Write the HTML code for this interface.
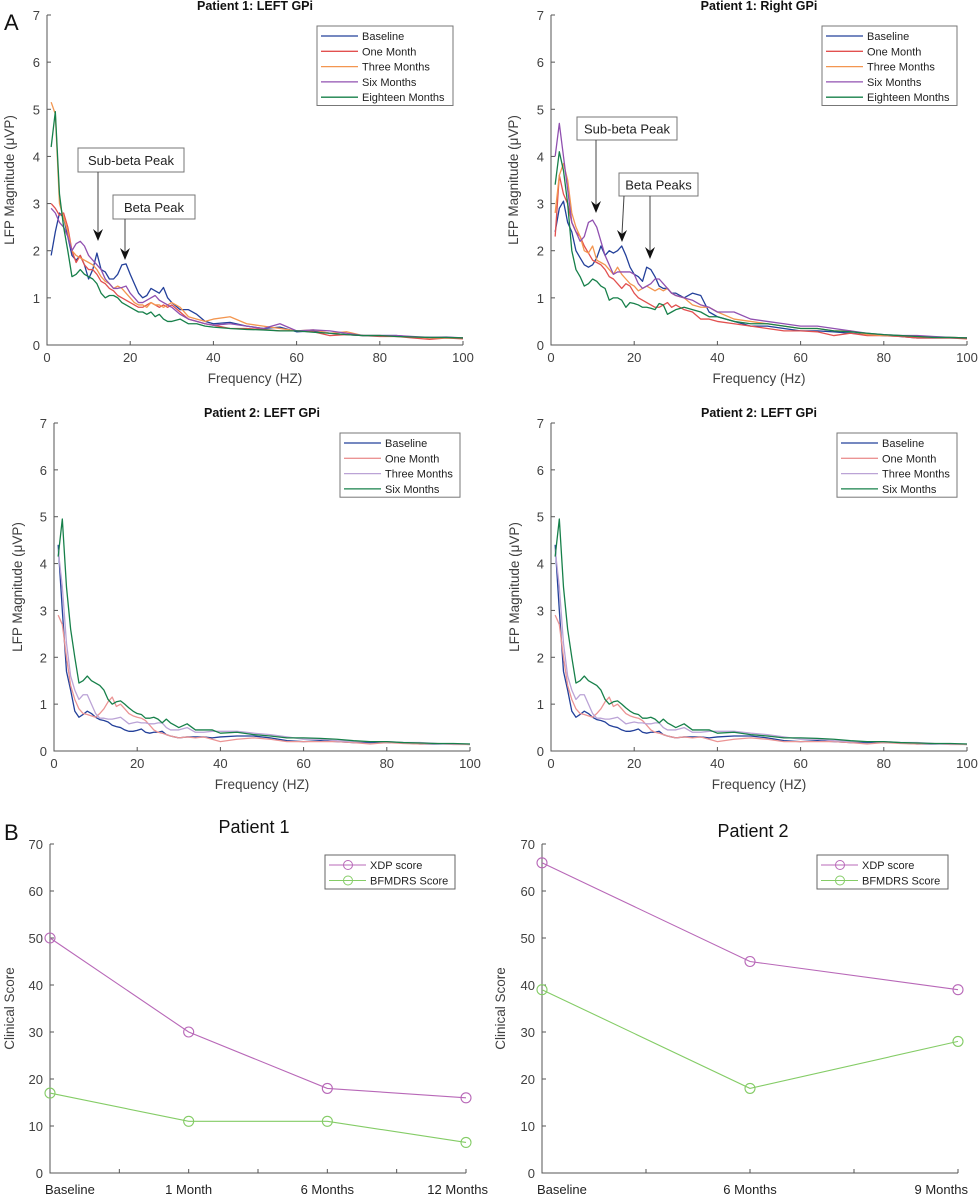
<!DOCTYPE html>
<html><head><meta charset="utf-8"><style>
body{margin:0;background:#fff}
svg{display:block;font-family:"Liberation Sans",Arial,sans-serif}
</style></head><body>
<svg id="fig" width="979" height="1200" viewBox="0 0 979 1200">
<text x="4" y="30" font-size="22" fill="#111">A</text>
<text x="4" y="840" font-size="22" fill="#111">B</text>
</svg>
<script>
// ---------- Spectral data ----------
const freq=[1,2,3,4,5,6,7,8,9,10,11,12,13,14,15,16,17,18,19,20,21,22,23,24,25,26,27,28,29,30,32,34,36,38,40,44,48,52,56,60,64,68,72,76,80,84,88,92,96,100];
const xTicks=[0,20,40,60,80,100];
const yTicks=[0,1,2,3,4,5,6,7];
// Patient 1 LEFT
const p1Baseline=[1.9,2.4,2.8,2.7,2.3,1.9,1.8,1.9,1.7,1.4,1.6,1.95,1.6,1.55,1.4,1.4,1.5,1.7,1.72,1.5,1.3,1.1,1.0,1.05,1.2,1.15,1.1,1.22,1.0,0.9,0.75,0.75,0.65,0.5,0.45,0.48,0.4,0.35,0.38,0.28,0.3,0.25,0.22,0.2,0.2,0.2,0.17,0.16,0.15,0.15];
const p1One=[3.0,2.9,2.75,2.8,2.5,2.0,1.75,1.9,1.7,1.6,1.6,1.5,1.35,1.3,1.2,1.15,1.05,1.0,0.95,0.9,0.85,0.8,0.8,0.85,0.9,0.85,0.8,0.85,0.8,0.85,0.7,0.55,0.5,0.45,0.42,0.35,0.35,0.33,0.3,0.3,0.28,0.2,0.22,0.2,0.18,0.18,0.15,0.12,0.15,0.13];
const p1Three=[5.15,4.9,3.0,2.7,2.4,2.0,1.9,1.85,1.8,1.75,1.7,1.6,1.45,1.35,1.3,1.2,1.25,1.2,1.1,1.0,0.9,0.85,0.85,0.8,0.9,0.85,0.85,0.8,0.85,0.9,0.8,0.6,0.55,0.5,0.55,0.6,0.45,0.4,0.35,0.3,0.32,0.25,0.28,0.2,0.2,0.18,0.17,0.15,0.15,0.15];
const p1Six=[2.9,2.8,2.6,2.5,2.3,2.0,2.15,2.2,2.1,1.9,1.8,1.7,1.6,1.4,1.3,1.2,1.2,1.22,1.25,1.1,1.0,0.9,0.9,0.95,1.0,1.05,0.95,0.9,0.85,0.8,0.65,0.55,0.5,0.45,0.42,0.45,0.4,0.35,0.45,0.3,0.32,0.3,0.25,0.2,0.2,0.2,0.18,0.16,0.17,0.15];
const p1Eighteen=[4.2,4.95,3.2,2.5,2.0,1.45,1.5,1.6,1.5,1.45,1.4,1.3,1.1,1.0,1.05,1.05,1.0,0.9,0.85,0.8,0.75,0.7,0.7,0.65,0.7,0.6,0.65,0.55,0.5,0.5,0.55,0.45,0.45,0.4,0.38,0.35,0.33,0.32,0.3,0.3,0.27,0.25,0.22,0.2,0.2,0.18,0.17,0.16,0.16,0.15];
// Patient 1 RIGHT
const p2Baseline=[2.4,2.9,3.05,2.6,2.4,2.0,1.85,1.7,1.65,1.7,1.85,2.1,1.9,2.0,1.95,2.0,2.1,1.9,1.65,1.5,1.45,1.35,1.65,1.6,1.45,1.25,1.2,1.2,1.1,1.1,1.0,1.1,1.05,0.7,0.6,0.5,0.4,0.4,0.35,0.3,0.3,0.28,0.25,0.22,0.2,0.18,0.15,0.15,0.15,0.15];
const p2One=[2.3,3.6,3.2,3.0,2.6,2.4,2.3,2.1,1.95,1.8,1.75,1.7,1.6,1.45,1.4,1.3,1.2,1.3,1.25,1.1,1.0,0.95,0.9,0.85,0.8,0.8,0.85,0.9,0.8,0.85,0.75,0.7,0.55,0.55,0.5,0.45,0.4,0.35,0.3,0.3,0.28,0.2,0.25,0.2,0.2,0.18,0.15,0.15,0.15,0.13];
const p2Three=[2.8,3.6,3.85,3.5,2.8,2.5,2.3,2.0,1.95,2.1,1.8,1.75,1.7,1.6,1.5,1.65,1.5,1.4,1.3,1.25,1.15,1.2,1.25,1.2,1.15,1.2,1.15,1.2,1.1,1.05,1.0,0.85,0.8,0.8,0.7,0.55,0.5,0.45,0.4,0.35,0.35,0.3,0.3,0.22,0.2,0.2,0.18,0.16,0.16,0.15];
const p2Six=[4.0,4.7,4.0,3.3,2.6,2.4,2.2,2.3,2.6,2.65,2.5,2.2,1.9,1.7,1.5,1.55,1.55,1.55,1.55,1.5,1.3,1.2,1.25,1.3,1.4,1.4,1.3,1.2,1.1,1.05,1.0,0.95,0.85,0.8,0.7,0.7,0.55,0.5,0.45,0.4,0.4,0.35,0.3,0.25,0.22,0.2,0.2,0.18,0.16,0.15];
const p2Eighteen=[3.4,4.1,3.7,3.0,2.0,1.6,1.45,1.25,1.3,1.4,1.35,1.25,1.2,0.95,1.0,1.0,0.95,0.8,0.9,0.88,0.85,0.8,0.8,0.78,0.75,0.88,0.85,0.65,0.7,0.75,0.8,0.75,0.7,0.6,0.6,0.5,0.45,0.45,0.4,0.35,0.35,0.3,0.28,0.25,0.22,0.2,0.18,0.16,0.16,0.15];
// Patient 2 LEFT
const p3Baseline=[4.4,3.0,1.7,1.3,0.85,0.72,0.78,0.85,0.8,0.72,0.67,0.65,0.62,0.55,0.52,0.5,0.45,0.42,0.42,0.44,0.47,0.4,0.38,0.4,0.4,0.42,0.35,0.32,0.3,0.28,0.3,0.3,0.3,0.28,0.3,0.32,0.32,0.28,0.22,0.2,0.22,0.2,0.18,0.18,0.18,0.17,0.15,0.15,0.15,0.14];
const p3One=[2.9,2.7,2.0,1.4,1.1,0.9,0.8,0.78,0.75,0.72,0.8,0.9,1.05,1.15,0.95,1.0,0.9,0.8,0.75,0.72,0.7,0.65,0.55,0.45,0.4,0.38,0.35,0.32,0.3,0.28,0.3,0.28,0.3,0.25,0.2,0.25,0.28,0.25,0.2,0.2,0.2,0.2,0.18,0.15,0.18,0.16,0.15,0.16,0.14,0.14];
const p3Three=[4.3,3.5,2.3,1.6,1.3,1.1,1.2,1.2,1.0,0.8,0.7,0.7,0.68,0.68,0.7,0.72,0.65,0.58,0.6,0.62,0.6,0.6,0.58,0.58,0.6,0.6,0.5,0.45,0.45,0.45,0.5,0.4,0.4,0.42,0.42,0.42,0.38,0.35,0.3,0.25,0.25,0.22,0.2,0.2,0.2,0.18,0.18,0.16,0.15,0.15];
const p3Six=[4.15,4.95,3.5,2.6,2.0,1.45,1.5,1.6,1.5,1.45,1.4,1.3,1.1,1.0,1.05,1.07,1.0,0.92,0.85,0.8,0.78,0.7,0.7,0.72,0.68,0.6,0.68,0.6,0.55,0.5,0.58,0.45,0.45,0.45,0.38,0.4,0.35,0.32,0.28,0.28,0.27,0.25,0.22,0.2,0.2,0.18,0.17,0.16,0.16,0.15];
// ---------- Clinical data ----------
const b1Categories=["Baseline","1 Month","6 Months","12 Months"];
const b1Xdp=[50,30,18,16];
const b1Bfm=[17,11,11,6.5];
const b2Categories=["Baseline","6 Months","9 Months"];
const b2Xdp=[66,45,39];
const b2Bfm=[39,18,28];
const scoreTicks=[0,10,20,30,40,50,60,70];

const NS="http://www.w3.org/2000/svg";
const svg=document.getElementById('fig');
function mk(tag,attrs,parent,text){const e=document.createElementNS(NS,tag);for(const k in attrs)e.setAttribute(k,attrs[k]);if(text!==undefined)e.textContent=text;(parent||svg).appendChild(e);return e;}
const C={blue:"#23409a",red:"#e2504f",orange:"#f39650",purple:"#9050b0",green:"#17804a",pink:"#eb9494",lav:"#bba3d6"};
const TXT="#404040", AX="#555";

function spectrum(cfg){
  const g=mk('g',{});
  
  
  const X=v=>cfg.x0+(v/100)*(cfg.x1-cfg.x0);
  const Y=v=>cfg.yb-(v/7)*(cfg.yb-cfg.yt);
  const ax=mk('path',{d:`M${cfg.x0},${cfg.yt}V${cfg.yb}H${cfg.x1}`,fill:'none',stroke:AX,'stroke-width':1},g);
  
  
  xTicks.forEach(t=>{
    mk('line',{x1:X(t),x2:X(t),y1:cfg.yb,y2:cfg.yb-4,stroke:AX},g);
    const l=mk('text',{x:X(t),y:cfg.yb+17,'font-size':13,fill:TXT,'text-anchor':'middle'},g,String(t));
    
    
  });
  yTicks.forEach(t=>{
    mk('line',{x1:cfg.x0,x2:cfg.x0+4,y1:Y(t),y2:Y(t),stroke:AX},g);
    const l=mk('text',{x:cfg.x0-7,y:Y(t)+5,'font-size':13,fill:TXT,'text-anchor':'end'},g,String(t));
    
    
  });
  const tt=mk('text',{x:(cfg.x0+cfg.x1)/2,y:cfg.ty,'font-size':12.5,'font-weight':'bold',fill:'#111','text-anchor':'middle'},g,cfg.title);
  
  
  const xt=mk('text',{x:(cfg.x0+cfg.x1)/2,y:cfg.yb+38,'font-size':13.5,fill:TXT,'text-anchor':'middle'},g,cfg.xTitle);
  
  
  const yc=(cfg.yt+cfg.yb)/2;
  const yt=mk('text',{x:cfg.ytx,y:yc,'font-size':13.5,fill:TXT,'text-anchor':'middle',transform:`rotate(-90 ${cfg.ytx} ${yc})`},g,"LFP Magnitude (μVP)");
  
  
  cfg.series.forEach(s=>{
    const p=mk('polyline',{points:freq.map((f,i)=>X(f)+','+Y(s.v[i])).join(' '),fill:'none',stroke:s.c,'stroke-width':1.3,'stroke-linejoin':'round'},g);
    
    
  });
  const L=cfg.leg;
  const lg=mk('g',{},g);
  
  
  mk('rect',{x:L[0],y:L[1],width:L[2],height:cfg.series.length*15.3+3,fill:'#fff',stroke:'#777'},lg);
  cfg.series.forEach((s,i)=>{
    const yy=L[1]+10+i*15.3;
    mk('line',{x1:L[0]+4,x2:L[0]+41,y1:yy,y2:yy,stroke:s.c,'stroke-width':1.3},lg);
    const e=mk('text',{x:L[0]+45,y:yy+4,'font-size':11,fill:'#222'},lg,s.n);
    
    
  });
  (cfg.ann||[]).forEach(a=>{
    const ag=mk('g',{},g);
    
    
    mk('rect',{x:a.b[0],y:a.b[1],width:a.b[2],height:a.b[3],fill:'#fff',stroke:'#777'},ag);
    mk('text',{x:a.b[0]+a.b[2]/2,y:a.b[1]+a.b[3]/2+5,'font-size':13,fill:'#222','text-anchor':'middle'},ag,a.t);
    a.arrows.forEach(r=>{
      mk('line',{x1:r[0],y1:a.b[1]+a.b[3],x2:r[1],y2:r[2]-8,stroke:'#444','stroke-width':1},ag);
      mk('path',{d:`M${r[1]},${r[2]} L${r[1]-5},${r[2]-12} L${r[1]},${r[2]-8} L${r[1]+5},${r[2]-12}Z`,fill:'#111'},ag);
    });
  });
}
const n5=["Baseline","One Month","Three Months","Six Months","Eighteen Months"];
spectrum({name:'chart-p1-left',x0:47,x1:463,yt:15,yb:345,ty:10,title:"Patient 1: LEFT GPi",xTitle:"Frequency (HZ)",ytx:14,leg:[317,26,136],
  series:[{n:n5[0],c:C.blue,v:p1Baseline},{n:n5[1],c:C.red,v:p1One},{n:n5[2],c:C.orange,v:p1Three},{n:n5[3],c:C.purple,v:p1Six},{n:n5[4],c:C.green,v:p1Eighteen}],
  ann:[{t:"Sub-beta Peak",b:[78,148,106,24],arrows:[[98,98,241]]},{t:"Beta Peak",b:[113,195,82,24],arrows:[[125,125,260]]}]});
spectrum({name:'chart-p1-right',x0:551,x1:967,yt:15,yb:345,ty:10,title:"Patient 1: Right GPi",xTitle:"Frequency (Hz)",ytx:518,leg:[822,26,135],
  series:[{n:n5[0],c:C.blue,v:p2Baseline},{n:n5[1],c:C.red,v:p2One},{n:n5[2],c:C.orange,v:p2Three},{n:n5[3],c:C.purple,v:p2Six},{n:n5[4],c:C.green,v:p2Eighteen}],
  ann:[{t:"Sub-beta Peak",b:[577,117,100,23],arrows:[[596,596,213]]},{t:"Beta Peaks",b:[619,173,79,23],arrows:[[624,622,242],[650,650,259]]}]});
const s4=(p)=>[{n:"Baseline",c:C.blue,v:p3Baseline},{n:"One Month",c:C.pink,v:p3One},{n:"Three Months",c:C.lav,v:p3Three},{n:"Six Months",c:C.green,v:p3Six}];
spectrum({name:'chart-p2-left',x0:54,x1:470,yt:423,yb:751,ty:417,title:"Patient 2: LEFT GPi",xTitle:"Frequency (HZ)",ytx:22,leg:[340,433,120],series:s4()});
spectrum({name:'chart-p2-left-copy',x0:551,x1:967,yt:423,yb:751,ty:417,title:"Patient 2: LEFT GPi",xTitle:"Frequency (HZ)",ytx:519,leg:[837,433,120],series:s4()});

function clinical(cfg){
  const g=mk('g',{});
  
  
  const n=cfg.cats.length;
  const X=i=>cfg.x0+i*(cfg.x1-cfg.x0)/(n-1);
  const Y=v=>cfg.yb-(v/70)*(cfg.yb-cfg.yt);
  const ax=mk('path',{d:`M${cfg.x0},${cfg.yt}V${cfg.yb}H${cfg.x1}`,fill:'none',stroke:AX},g);
  
  
  for(let i=0;i<=2*(n-1);i++){const x=cfg.x0+i*(cfg.x1-cfg.x0)/(2*(n-1));mk('line',{x1:x,x2:x,y1:cfg.yb,y2:cfg.yb-4,stroke:AX},g);}
  scoreTicks.forEach(t=>{
    mk('line',{x1:cfg.x0,x2:cfg.x0+4,y1:Y(t),y2:Y(t),stroke:AX},g);
    const l=mk('text',{x:cfg.x0-7,y:Y(t)+5,'font-size':13,fill:TXT,'text-anchor':'end'},g,String(t));
    
    
  });
  cfg.cats.forEach((c,i)=>{
    const anchor=i===0?'start':(i===n-1?'end':'middle');
    const dx=i===0?-5:(i===n-1?cfg.lastDx:0);
    const l=mk('text',{x:X(i)+dx,y:cfg.yb+21,'font-size':13,fill:'#222','text-anchor':anchor},g,c);
    
    
  });
  const tt=mk('text',{x:cfg.tx,y:cfg.ty,'font-size':18,fill:'#111','text-anchor':'middle'},g,cfg.title);
  
  
  const yc=(cfg.yt+cfg.yb)/2;
  const yt=mk('text',{x:cfg.ytx,y:yc,'font-size':13.5,fill:TXT,'text-anchor':'middle',transform:`rotate(-90 ${cfg.ytx} ${yc})`},g,"Clinical Score");
  
  
  [[cfg.xdp,'#b868b8','xdp'],[cfg.bfm,'#84cc66','bfmdrs']].forEach(([vals,col,nm])=>{
    const p=mk('polyline',{points:vals.map((v,i)=>X(i)+','+Y(v)).join(' '),fill:'none',stroke:col,'stroke-width':1.1},g);
    
    
    vals.forEach((v,i)=>{
      const c=mk('circle',{cx:X(i),cy:Y(v),r:5,fill:'none',stroke:col,'stroke-width':1.1},g);
      
      
    });
  });
  const L=cfg.leg;
  const lg=mk('g',{},g);
  
  
  mk('rect',{x:L[0],y:L[1],width:L[2],height:34,fill:'#fff',stroke:'#666'},lg);
  [['XDP score','#b868b8'],['BFMDRS Score','#84cc66']].forEach(([t,col],i)=>{
    const yy=L[1]+10+i*15.5;
    mk('line',{x1:L[0]+4,x2:L[0]+41,y1:yy,y2:yy,stroke:col},lg);
    mk('circle',{cx:L[0]+23,cy:yy,r:4.5,fill:'none',stroke:col},lg);
    const e=mk('text',{x:L[0]+45,y:yy+4,'font-size':11,fill:'#222'},lg,t);
    
    
  });
}
clinical({name:'chart-b-patient1',x0:50,x1:466,yt:844,yb:1173,title:"Patient 1",tx:254,ty:833,ytx:14,leg:[325,855,130],cats:b1Categories,xdp:b1Xdp,bfm:b1Bfm,lastDx:22});
clinical({name:'chart-b-patient2',x0:542,x1:958,yt:844,yb:1173,title:"Patient 2",tx:753,ty:837,ytx:505,leg:[817,855,131],cats:b2Categories,xdp:b2Xdp,bfm:b2Bfm,lastDx:10});
</script>
</body></html>
